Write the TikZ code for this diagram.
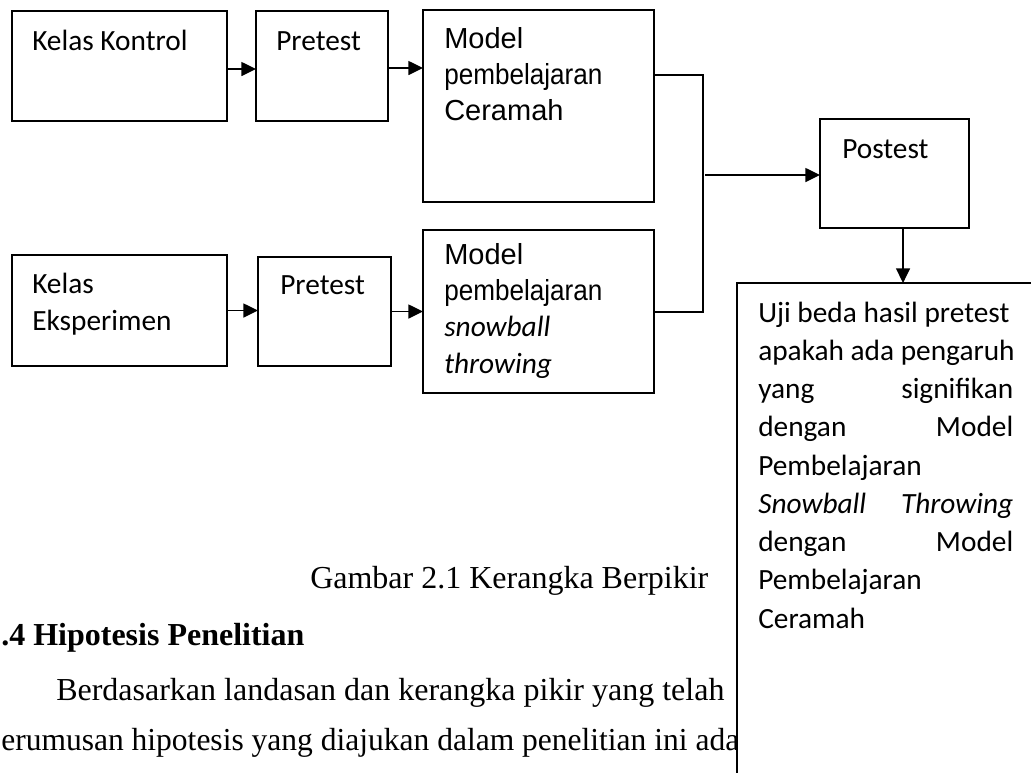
\documentclass[tikz,border=0pt]{standalone}
\usepackage{fontspec}
\usepackage{graphicx}
\setmainfont{Liberation Serif}
\newfontfamily\calfont{Carlito}
\newfontfamily\arialfont{Liberation Sans}
\usetikzlibrary{arrows.meta,calc}
\begin{document}
\begin{tikzpicture}[x=0.75pt,y=-0.75pt,
  box/.style={draw,line width=1pt,anchor=north west,inner sep=0pt,outer sep=0pt,fill=white},
  mbox/.style={box,line width=1.3pt},
  ctext/.style={anchor=base west,inner sep=0pt,align=flush left,font=\calfont\fontsize{22pt}{27.75pt}\selectfont},
  atext/.style={anchor=base west,inner sep=0pt,align=flush left,font=\arialfont\fontsize{21.75pt}{27.3pt}\selectfont},
  ttext/.style={anchor=base west,inner sep=0pt,font=\fontsize{24pt}{28pt}\selectfont},
  arr/.style={-{Triangle[length=11pt,width=10.5pt]},line width=1.1pt},
  conn/.style={line width=1.3pt}]
\useasboundingbox (0,0) rectangle (1031,772);
\fill[white] (0,0) rectangle (1031,772);
\clip (0,0) rectangle (1031,772);

% top row
\node[box,minimum width=161.25pt,minimum height=82.5pt] (KK) at (12,11) {};
\node[ctext] (tKK) at ([shift={(20,39)}]KK.north west) {Kelas Kontrol};
\node[box,minimum width=99pt,minimum height=82.5pt] (P1) at (256,11) {};
\node[ctext] (tP1) at ([shift={(20,39)}]P1.north west) {Pretest};
\node[mbox,minimum width=173.25pt,minimum height=144pt] (MC) at (423,10) {};
\node[atext,text width=160pt] (tMC) at ([shift={(21,38)}]MC.north west)
  {Model\\\scalebox{0.9}[1]{pembelajaran}\\Ceramah};

% bottom row
\node[box,minimum width=161.25pt,minimum height=83.25pt] (KE) at (12,255) {};
\node[ctext,text width=150pt] (tKE) at ([shift={(20,38)}]KE.north west) {Kelas\\Eksperimen};
\node[box,minimum width=99.75pt,minimum height=81.75pt] (P2) at (258,257) {};
\node[ctext] (tP2) at ([shift={(22,37)}]P2.north west) {Pretest};
\node[mbox,minimum width=173.25pt,minimum height=122.25pt] (MS) at (423,230) {};
\node[atext,text width=160pt] (tMS) at ([shift={(21,34)}]MS.north west)
  {Model\\\scalebox{0.9}[1]{pembelajaran}\\
   {\calfont\itshape\fontsize{22pt}{27.3pt}\selectfont snowball}\\
   {\calfont\itshape\fontsize{22pt}{27.3pt}\selectfont throwing}};

% postest
\node[mbox,minimum width=111.75pt,minimum height=81.75pt] (PT) at (820,119) {};
\node[ctext] (tPT) at ([shift={(22,39)}]PT.north west) {Postest};

% arrows
\draw[arr] ([yshift=-2.25pt]KK.east) -- ([yshift=-2.25pt]KK.east -| P1.west);
\draw[arr] ([yshift=-1.5pt]P1.east) -- ([yshift=-1.5pt]P1.east -| MC.west);
\draw[arr] (KE.east) -- (KE.east -| P2.west);
\draw[arr] (P2.east) -- (P2.east -| MS.west);

\coordinate (ja) at (703,75);
\coordinate (jb) at (703,312);
\coordinate (jm) at (705,175);
\draw[conn] (MC.east |- ja) -- (ja) -- (jb) -- (MS.east |- jb);
\draw[arr] (jm) -- (jm -| PT.west);

% running text of the page
\node[ttext] (cap) at (310,588) {Gambar 2.1 Kerangka Berpikir};
\node[ttext] (head) at (1,645) {\bfseries .4 Hipotesis Penelitian};
\node[ttext] (par1) at (56,700) {Berdasarkan landasan dan kerangka pikir yang telah};
\node[ttext] (par2) at (1,750) {\scalebox{0.985}[1]{erumusan hipotesis yang diajukan dalam penelitian ini ada}};

% result box
\node[box,minimum width=247.5pt,minimum height=390pt] (UB) at (737,283) {};
\draw[arr] ([xshift=6.4pt]PT.south) -- ([xshift=6.4pt]PT.south |- UB.north);
\node[ctext,text width=200pt,font=\calfont\fontsize{22pt}{28.7pt}\selectfont] (tUB)
  at ([shift={(21,39)}]UB.north west)
  {Uji beda hasil pretest\\
   apakah ada pengaruh\\
   \makebox[191.25pt][l]{yang\hfill signifikan}\\
   \makebox[191.25pt][l]{dengan\hfill Model}\\
   Pembelajaran\\
   \makebox[191.25pt][l]{\itshape Snowball\hfill Throwing}\\
   \makebox[191.25pt][l]{dengan\hfill Model}\\
   Pembelajaran\\
   Ceramah};
\end{tikzpicture}
\end{document}
